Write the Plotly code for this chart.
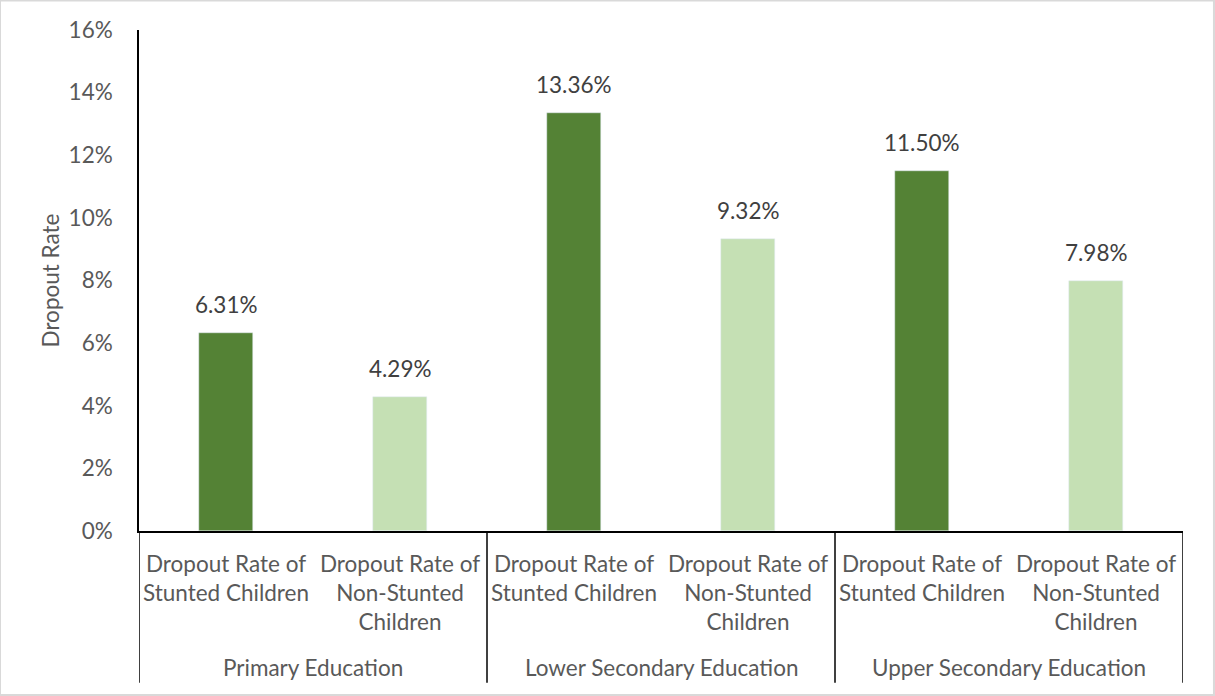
import plotly.graph_objects as go

# Dropout rates by education level and stunting status
groups = ["Primary Education", "Lower Secondary Education", "Upper Secondary Education"]
subgroups = ["Dropout Rate of<br>Stunted Children", "Dropout Rate of<br>Non-Stunted<br>Children"]
stunted = [0.0631, 0.1336, 0.1150]
non_stunted = [0.0429, 0.0932, 0.0798]
y_ticks = [0, 0.02, 0.04, 0.06, 0.08, 0.10, 0.12, 0.14, 0.16]

DARK = "#548235"
LIGHT = "#C5E0B4"
TXT = "#595959"
FONT = "Lato"
FS = 22.5

x_stunted = [2 * i for i in range(len(groups))]
x_non = [2 * i + 1 for i in range(len(groups))]

fig = go.Figure()
fig.add_trace(go.Bar(x=x_stunted, y=stunted, marker_color=DARK, width=0.316,
                     hoverinfo="y", showlegend=False))
fig.add_trace(go.Bar(x=x_non, y=non_stunted, marker_color=LIGHT, width=0.316,
                     hoverinfo="y", showlegend=False))

annotations = []
for xs, vals in ((x_stunted, stunted), (x_non, non_stunted)):
    for x, v in zip(xs, vals):
        annotations.append(dict(x=x, y=v, xref="x", yref="y", text=f"{v*100:.2f}%",
                                showarrow=False, yshift=13, yanchor="bottom",
                                font=dict(family=FONT, size=FS, color="#404040")))

# group labels under the category axis
for i, g in enumerate(groups):
    annotations.append(dict(x=2 * i + 0.5, y=-0.2715, xref="x", yref="paper", text=g,
                            showarrow=False, yanchor="middle",
                            font=dict(family=FONT, size=FS, color=TXT)))

shapes = []
# separators between groups
for i in range(len(groups) + 1):
    xb = 2 * i - 0.5
    shapes.append(dict(type="line", xref="x", yref="paper", x0=xb, x1=xb, y0=0, y1=-0.303,
                       line=dict(color="black", width=1.5)))
# outer frame
shapes.append(dict(type="rect", xref="paper", yref="paper",
                   x0=-139 / 1044, x1=(1215 - 139) / 1044 - 0.001,
                   y0=-165 / 501 + 0.002, y1=1 + 30 / 501 - 0.001,
                   line=dict(color="#d9d9d9", width=2)))

tickvals = x_stunted + x_non
ticktext = [subgroups[0]] * len(groups) + [subgroups[1]] * len(groups)

fig.update_layout(
    width=1215, height=696,
    margin=dict(l=139, r=32, t=30, b=165),
    paper_bgcolor="white", plot_bgcolor="white",
    font=dict(family=FONT, size=FS, color=TXT),
    bargap=0,
    annotations=annotations,
    shapes=shapes,
    xaxis=dict(range=[-0.5, 5.5], tickvals=tickvals, ticktext=ticktext,
               showline=True, linecolor="black", linewidth=1.5, ticks="",
               showgrid=False, zeroline=False, ticklabelstandoff=12,
               tickfont=dict(family=FONT, size=FS, color=TXT)),
    yaxis=dict(range=[0, 0.16], tickvals=y_ticks, tickformat=".0%",
               showline=True, linecolor="black", linewidth=1.5, ticks="",
               showgrid=False, zeroline=False, ticklabelstandoff=20,
               title=dict(text="Dropout Rate", standoff=3,
                          font=dict(family=FONT, size=FS, color=TXT)),
               tickfont=dict(family=FONT, size=FS, color=TXT)),
)

fig.write_html("out.html")
